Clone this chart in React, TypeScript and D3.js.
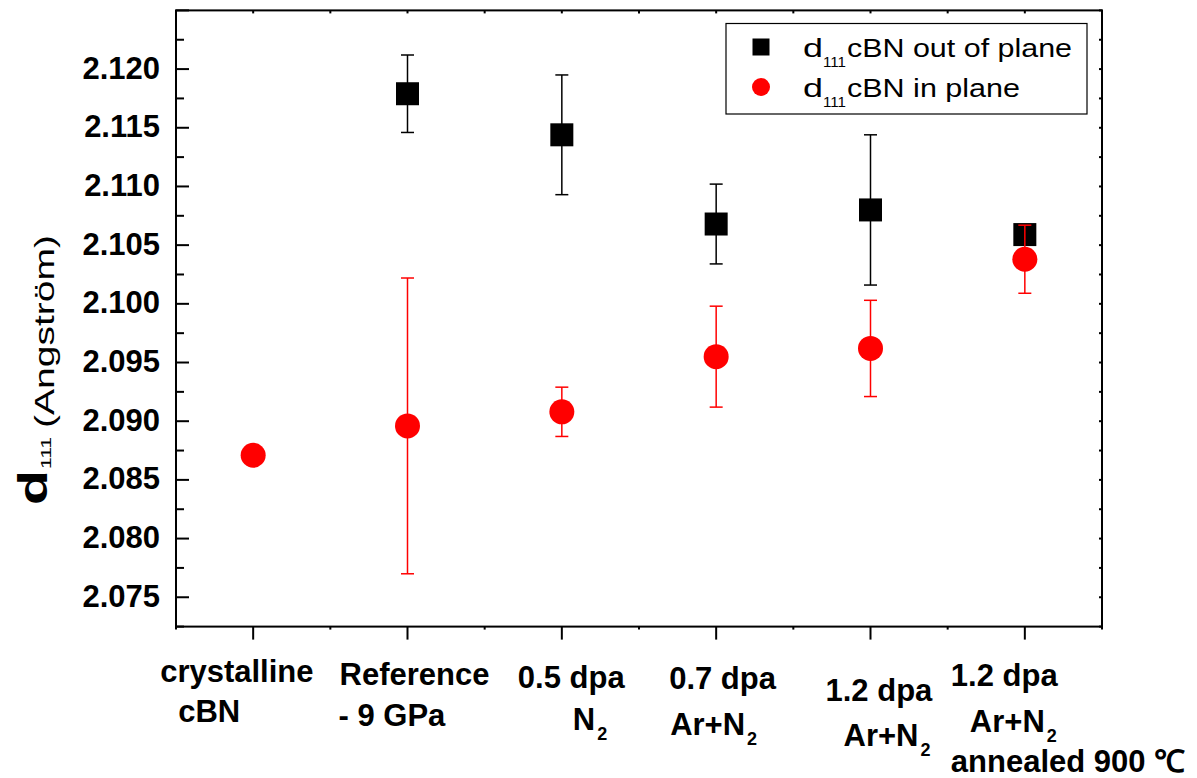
import React from 'react';
import * as d3 from 'd3';

// category labels, one string per line, "_" marks a subscript
const categoryLines: string[][] = [
  ['crystalline', 'cBN'],
  ['Reference', '- 9 GPa'],
  ['0.5 dpa', 'N_2'],
  ['0.7 dpa', 'Ar+N_2'],
  ['1.2 dpa', 'Ar+N_2'],
  ['1.2 dpa', 'Ar+N_2', 'annealed 900 \u2103'],
];

// d111 out of plane (black squares), null = no value
const outOfPlane: (number | null)[] = [null, 2.1179, 2.1144, 2.1068, 2.108, 2.1059];
const outOfPlaneErr: number[] = [0, 0.0033, 0.0051, 0.0034, 0.0064, 0.0005];

// d111 in plane (red circles)
const inPlane: number[] = [2.0871, 2.0896, 2.0908, 2.0955, 2.0962, 2.1038];
const inPlaneErr: number[] = [0, 0.0126, 0.0021, 0.0043, 0.0041, 0.0029];

const yTickValues: number[] = [2.075, 2.08, 2.085, 2.09, 2.095, 2.1, 2.105, 2.11, 2.115, 2.12];

// where each label line sits, relative to its category tick
const labelLayout = [
  [{ dx: -93, y: 682 }, { dx: -75, y: 722 }],
  [{ dx: -68, y: 685 }, { dx: -69, y: 726 }],
  [{ dx: -44, y: 688 }, { dx: 11, y: 730 }],
  [{ dx: -47, y: 689 }, { dx: -46, y: 735 }],
  [{ dx: -45, y: 701 }, { dx: -27, y: 746 }],
  [{ dx: -74, y: 686 }, { dx: -55, y: 732 }, { dx: -74, y: 772 }],
];

const W = 1197;
const H = 778;
const FONT = '"Liberation Sans", Arial, Helvetica, sans-serif';

const App = () => {
  const x = d3.scaleLinear().domain([0.5, 6.5]).range([176, 1102]);
  const y = d3.scaleLinear().domain([2.0725, 2.125]).range([626.6, 10.4]);
  const [x0, x1] = x.range();
  const [y0, y1] = y.range();

  const minorY = d3.range(0, 22).map(i => 2.0725 + i * 0.0025);
  const halfX = d3.range(0, 13).map(i => 0.5 + i * 0.5);
  const cats = categoryLines.map((_, i) => i + 1);
  const cap = 6.5;

  const errBar = (cx: number, v: number, e: number, color: string, key: string) => (
    <g key={key} stroke={color} strokeWidth={1.5} fill="none">
      <line x1={cx} x2={cx} y1={y(v + e)} y2={y(v - e)} />
      <line x1={cx - cap} x2={cx + cap} y1={y(v + e)} y2={y(v + e)} />
      <line x1={cx - cap} x2={cx + cap} y1={y(v - e)} y2={y(v - e)} />
    </g>
  );

  const renderLine = (text: string, px: number, py: number, key: string) => {
    const parts = text.split('_');
    return (
      <text key={key} x={px} y={py} fontFamily={FONT} fontWeight="bold" fontSize={31} fill="#000">
        {parts[0]}
        {parts[1] && (
          <tspan fontSize={18} dy={10} dx={2}>{parts[1]}</tspan>
        )}
      </text>
    );
  };

  return (
    <svg width={W} height={H} style={{ position: 'absolute', left: 0, top: 0, background: '#fff' }}>
      {/* left axis ticks + labels */}
      {minorY.map((v, i) => {
        const major = i % 2 === 1;
        return (
          <g key={'ly' + i} stroke="#000" strokeWidth={2}>
            <line x1={x0} x2={x0 + (major ? 13 : 8)} y1={y(v)} y2={y(v)} />
            <line x1={x1} x2={x1 - 3} y1={y(v)} y2={y(v)} />
          </g>
        );
      })}
      {yTickValues.map(v => (
        <text key={'yt' + v} x={160} y={y(v) + 9.5} textAnchor="end" fontFamily={FONT}
          fontWeight="bold" fontSize={31} fill="#000">{d3.format('.3f')(v)}</text>
      ))}

      {/* top and bottom ticks */}
      {halfX.map((v, i) => {
        const major = i % 2 === 1 && v >= 1 && v <= 6;
        return (
          <g key={'bx' + i} stroke="#000" strokeWidth={2}>
            <line x1={x(v)} x2={x(v)} y1={y0} y2={y0 + (major ? 13 : 3)} />
            <line x1={x(v)} x2={x(v)} y1={y1} y2={y1 + 3} />
          </g>
        );
      })}

      {/* frame */}
      <rect x={x0} y={y1} width={x1 - x0} height={y0 - y1} fill="none" stroke="#000" strokeWidth={2} />

      {/* x labels */}
      {categoryLines.map((lines, i) =>
        lines.map((ln, j) => renderLine(ln, x(cats[i]) + labelLayout[i][j].dx, labelLayout[i][j].y, `xl${i}-${j}`))
      )}

      {/* y title */}
      <g transform="translate(0,370) rotate(-90)" fontFamily={FONT} fill="#000">
        <text x={-135} y={47} fontWeight="bold" fontSize={40} textLength={35} lengthAdjust="spacingAndGlyphs">d</text>
        <text x={-99} y={51} fontSize={15} textLength={32} lengthAdjust="spacingAndGlyphs">111</text>
        <text x={-58} y={54} fontSize={28} textLength={193} lengthAdjust="spacingAndGlyphs">(Angström)</text>
      </g>

      {/* out of plane */}
      {outOfPlane.map((v, i) => v === null ? null : errBar(x(cats[i]), v, outOfPlaneErr[i], '#000', 'eb' + i))}
      {outOfPlane.map((v, i) => v === null ? null : (
        <rect key={'sq' + i} x={x(cats[i]) - 11.5} y={y(v) - 11.5} width={23} height={23} fill="#000" />
      ))}

      {/* in plane */}
      {inPlane.map((v, i) => inPlaneErr[i] > 0 ? errBar(x(cats[i]), v, inPlaneErr[i], '#ff0000', 'er' + i) : null)}
      {inPlane.map((v, i) => (
        <circle key={'ci' + i} cx={x(cats[i])} cy={y(v)} r={12.5} fill="#ff0000" />
      ))}

      {/* legend */}
      <g fontFamily={FONT} fill="#000">
        <rect x={726} y={23.5} width={361} height={90.5} fill="#fff" stroke="#000" strokeWidth={1.2} />
        <rect x={752.5} y={38.5} width={17} height={17} fill="#000" />
        <circle cx={761} cy={87} r={9} fill="#ff0000" />
        <text x={803} y={57} fontSize={26} textLength={20} lengthAdjust="spacingAndGlyphs">d</text>
        <text x={823} y={67} fontSize={15} textLength={23} lengthAdjust="spacingAndGlyphs">111</text>
        <text x={847} y={57} fontSize={26} textLength={225} lengthAdjust="spacingAndGlyphs">cBN out of plane</text>
        <text x={803} y={97} fontSize={26} textLength={20} lengthAdjust="spacingAndGlyphs">d</text>
        <text x={823} y={107} fontSize={15} textLength={23} lengthAdjust="spacingAndGlyphs">111</text>
        <text x={847} y={97} fontSize={26} textLength={173} lengthAdjust="spacingAndGlyphs">cBN in plane</text>
      </g>
    </svg>
  );
};

export default App;
